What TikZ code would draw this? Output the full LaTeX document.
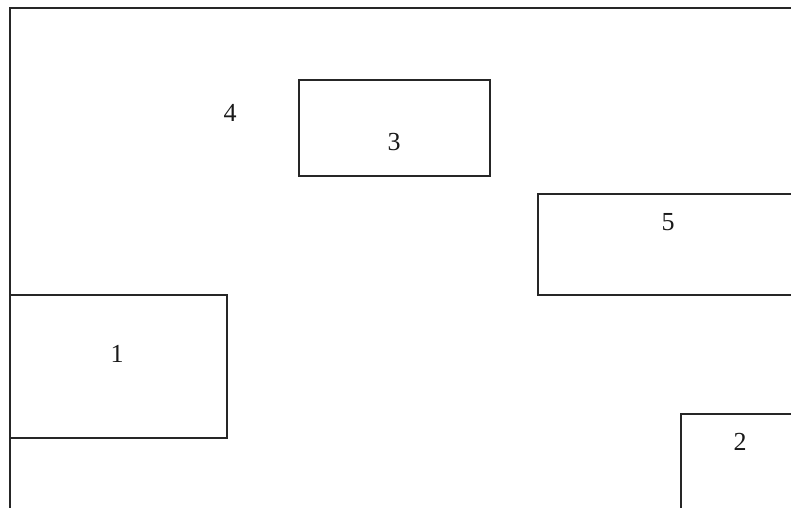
\documentclass[tikz,border=0pt]{standalone}
\usepackage{fontspec}
\setmainfont{Liberation Serif}
\begin{document}
\begin{tikzpicture}[x=1pt,y=-1pt,
  edge/.style={draw=black!85,line width=1.8pt},
  lbl/.style={font=\fontsize{26}{28}\selectfont,inner sep=0pt,text=black!90}]
\useasboundingbox (0,0) rectangle (791,507);
\clip (0,0) rectangle (791,507);
\fill[white] (0,0) rectangle (791,507);
\draw[edge] (10,520) -- (10,8) -- (800,8);
\draw[edge] (10,295) rectangle (227,438);
\draw[edge] (299,80) rectangle (490,176);
\draw[edge] (538,194) rectangle (800,295);
\draw[edge] (681,414) rectangle (800,520);
\node[lbl] (n1) at (117,354) {1};
\node[lbl] (n2) at (740,442) {2};
\node[lbl] (n3) at (394,142) {3};
\node[lbl] (n4) at (230,113) {4};
\node[lbl] (n5) at (668,222) {5};
\end{tikzpicture}
\end{document}
